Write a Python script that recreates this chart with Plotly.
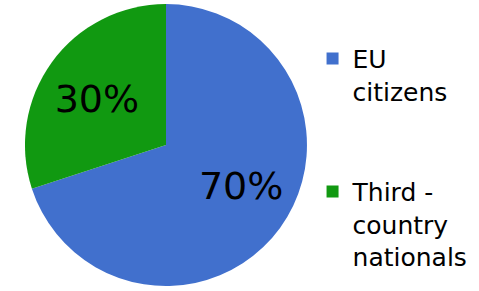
import plotly.graph_objects as go

labels = ["EU<br>citizens<br> <br> ", "Third -<br>country<br>nationals"]
values = [70, 30]
colors = ["#4170CD", "#119911"]
NB = "\u00a0"
templates = [NB * 3 + "%{percent:.0%}", "%{percent:.0%}" + NB]

fig = go.Figure(go.Pie(
    labels=labels,
    values=values,
    sort=False,
    direction="clockwise",
    rotation=0,
    marker=dict(colors=colors, line=dict(width=0)),
    texttemplate=templates,
    textposition="inside",
    insidetextorientation="horizontal",
    insidetextfont=dict(family="DejaVu Sans", size=38, color="black"),
    domain=dict(x=[0.042, 0.651], y=[0.017, 0.986]),
    hoverinfo="label+percent",
))

fig.update_layout(
    width=479, height=291,
    margin=dict(l=0, r=0, t=0, b=0),
    paper_bgcolor="white",
    font=dict(family="DejaVu Sans", color="black"),
    showlegend=True,
    legend=dict(
        x=0.6525, y=0.877, xanchor="left", yanchor="top",
        valign="top",
        font=dict(family="DejaVu Sans", size=25, color="black"),
        bgcolor="rgba(0,0,0,0)",
    ),
)

fig.write_html("out.html", config={"displayModeBar": False},
               post_script="document.body.style.margin='0';")
